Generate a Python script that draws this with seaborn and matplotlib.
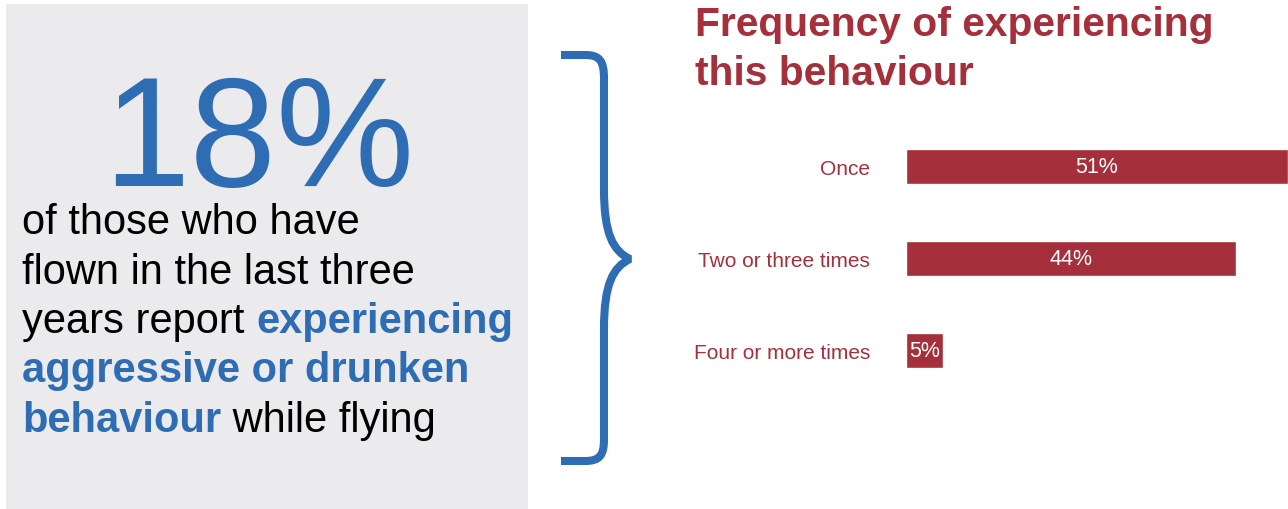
import matplotlib
matplotlib.use("Agg")
import matplotlib.pyplot as plt
import seaborn as sns
import pandas as pd
from matplotlib.patches import Rectangle, PathPatch
from matplotlib.path import Path

# data
categories = ["Once", "Two or three times", "Four or more times"]
shares = [51, 44, 5]
value_labels = ["51%", "44%", "5%"]
headline = "18%"
title_lines = ["Frequency of experiencing", "this behaviour"]
body = [
    [("of those who have", "black", "normal")],
    [("flown in the last three", "black", "normal")],
    [("years report ", "black", "normal"), ("experiencing", "blue", "bold")],
    [("aggressive or drunken", "blue", "bold")],
    [("behaviour", "blue", "bold"), (" while flying", "black", "normal")],
]

RED = "#A52F3A"
BLUE = "#2E6DB4"
GREY = "#EBEBED"

sns.set_style("white")
plt.rcParams['font.family'] = ['Liberation Sans', 'DejaVu Sans']

W, H = 1288, 510
fig = plt.figure(figsize=(W / 100, H / 100), dpi=100)
fig.patch.set_facecolor("white")


def px(x, y):
    # pixel coords (top-left origin) -> figure fraction
    return x / W, 1 - y / H


# grey panel on the left (behind the axes)
fig.patches.append(Rectangle(px(6, 510), 522 / W, 505 / H, transform=fig.transFigure,
                             facecolor=GREY, edgecolor="none", zorder=-1))

# big number
fig.text(*px(259, 186), headline, fontsize=112, color=BLUE, ha="center", va="baseline")

# title
for i, t in enumerate(title_lines):
    fig.text(*px(695, 36 + i * 49), t, fontsize=29.3, fontweight="bold", color=RED,
             ha="left", va="baseline")

# bars
ax = fig.add_axes([906 / W, 1 - 397.5 / H, 382 / W, 276 / H])
df = pd.DataFrame({"category": categories, "share": shares})
sns.barplot(data=df, x="share", y="category", orient="h", color=RED, width=0.38,
            saturation=1, ax=ax)
ax.set_xlim(0, 51)
ax.set_ylim(2.5, -0.5)
ax.set_xlabel("")
ax.set_ylabel("")
ax.set_xticks([])
sns.despine(ax=ax, left=True, bottom=True)
ax.tick_params(axis="y", left=False, pad=22.5, labelsize=15, labelcolor=RED)
ax.patch.set_alpha(0)
ax.bar_label(ax.containers[0], labels=value_labels, label_type="center",
             color="white", fontsize=15.5)

# body text, mixed colours, each piece chained after the previous one
colours = {"black": "black", "blue": BLUE}
for i, line in enumerate(body):
    prev = None
    for txt, col, wt in line:
        if prev is None:
            prev = ax.annotate(txt, xy=px(22, 234 + i * 49.5), xycoords="figure fraction",
                               fontsize=30, color=colours[col], fontweight=wt,
                               ha="left", va="baseline", annotation_clip=False, clip_on=False)
        else:
            prev = ax.annotate(txt, xy=(1, 0), xycoords=prev, fontsize=30,
                               color=colours[col], fontweight=wt, ha="left", va="bottom",
                               annotation_clip=False, clip_on=False)

# curly brace
verts = [px(561, 56), px(585, 56), px(600, 56), px(604, 62), px(604, 80),
         px(604, 190), px(604, 235), px(613, 252), px(630, 260),
         px(613, 268), px(604, 285), px(604, 330),
         px(604, 440), px(604, 456), px(600, 462), px(585, 462), px(561, 462)]
codes = [Path.MOVETO, Path.LINETO, Path.CURVE4, Path.CURVE4, Path.CURVE4,
         Path.LINETO, Path.CURVE4, Path.CURVE4, Path.CURVE4,
         Path.CURVE4, Path.CURVE4, Path.CURVE4,
         Path.LINETO, Path.CURVE4, Path.CURVE4, Path.CURVE4, Path.LINETO]
fig.patches.append(PathPatch(Path(verts, codes), transform=fig.transFigure, facecolor="none",
                             edgecolor=BLUE, linewidth=5.8, capstyle="butt", joinstyle="bevel"))

fig.savefig("out.png", dpi=100)
